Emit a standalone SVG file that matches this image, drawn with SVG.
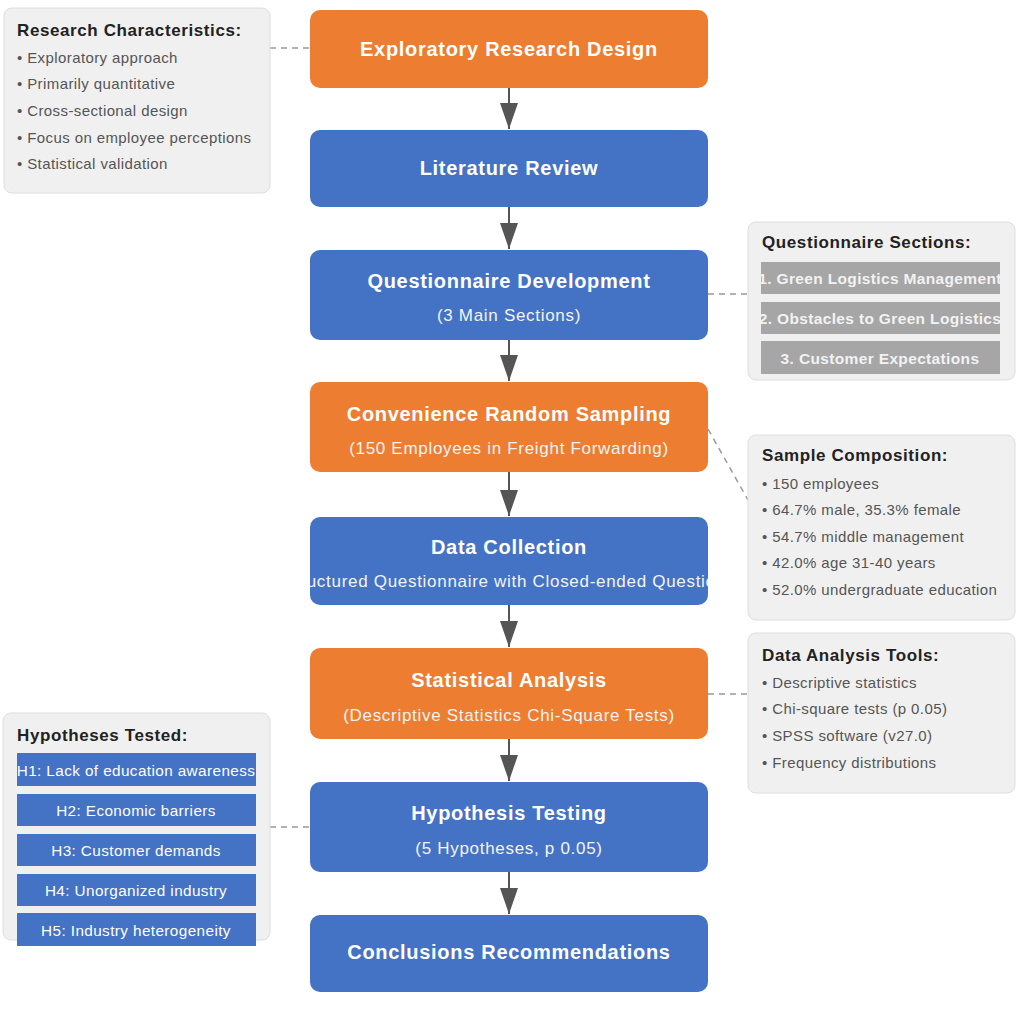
<svg xmlns="http://www.w3.org/2000/svg" width="1022" height="1017" viewBox="0 0 1022 1017">
<style>
.node rect{stroke:none}
.orange{fill:#ed7d31}
.blue{fill:#4472c4}
.nt{font-family:"Liberation Sans",Arial,sans-serif;font-weight:bold;font-size:20px;letter-spacing:0.7px;fill:#fff;text-anchor:middle;dominant-baseline:central}
.ns{font-family:"Liberation Sans",Arial,sans-serif;font-size:17px;letter-spacing:0.7px;fill:#f4f4f4;text-anchor:middle;dominant-baseline:central}
.box{fill:#f0f0f0;stroke:#dedede;stroke-width:1}
.bt{font-family:"Liberation Sans",Arial,sans-serif;font-weight:bold;font-size:17px;letter-spacing:0.6px;fill:#222;dominant-baseline:central}
.bi{font-family:"Liberation Sans",Arial,sans-serif;font-size:15px;letter-spacing:0.4px;fill:#555;dominant-baseline:central}
.gbar{fill:#a6a6a6}
.gt{font-family:"Liberation Sans",Arial,sans-serif;font-weight:bold;font-size:15.5px;letter-spacing:0.35px;fill:#f2f2f2;text-anchor:middle;dominant-baseline:central}
.hbar{fill:#4472c4}
.ht{font-family:"Liberation Sans",Arial,sans-serif;font-size:15.3px;letter-spacing:0.4px;fill:#fff;text-anchor:middle;dominant-baseline:central}
.flow{stroke:#555;stroke-width:2;fill:none}
.dash{stroke:#999;stroke-width:1.5;stroke-dasharray:6,5;fill:none}
</style>
<defs>
<marker id="ah" markerUnits="userSpaceOnUse" markerWidth="26" markerHeight="18" refX="26" refY="9" orient="auto">
<path d="M0,0 L26,9 L0,18 z" fill="#555"/>
</marker>
<clipPath id="clipDC"><rect x="310" y="517" width="398" height="88" rx="10"/></clipPath>
<clipPath id="clipQ1"><rect x="761" y="262" width="239" height="32"/></clipPath>
<clipPath id="clipQ2"><rect x="761" y="302" width="239" height="32"/></clipPath>
<clipPath id="clipQ3"><rect x="761" y="341" width="239" height="33"/></clipPath>
<clipPath id="clipH1"><rect x="17" y="753" width="239" height="33"/></clipPath>
</defs>
<rect width="1022" height="1017" fill="#fff"/>

<g id="connectors">
<line class="flow" x1="509" y1="88" x2="509" y2="129" marker-end="url(#ah)"/>
<line class="flow" x1="509" y1="207" x2="509" y2="249" marker-end="url(#ah)"/>
<line class="flow" x1="509" y1="340" x2="509" y2="381" marker-end="url(#ah)"/>
<line class="flow" x1="509" y1="472" x2="509" y2="516" marker-end="url(#ah)"/>
<line class="flow" x1="509" y1="605" x2="509" y2="647" marker-end="url(#ah)"/>
<line class="flow" x1="509" y1="739" x2="509" y2="781" marker-end="url(#ah)"/>
<line class="flow" x1="509" y1="872" x2="509" y2="914" marker-end="url(#ah)"/>
<line class="dash" x1="270" y1="48" x2="310" y2="48"/>
<line class="dash" x1="708" y1="294" x2="761" y2="294"/>
<line class="dash" x1="708" y1="429" x2="748" y2="500"/>
<line class="dash" x1="708" y1="694" x2="748" y2="694"/>
<line class="dash" x1="270" y1="827" x2="310" y2="827"/>
</g>

<g id="node-exploratory" class="node">
<rect class="orange" x="310" y="10" width="398" height="78" rx="10"/>
<text class="nt" x="509" y="49">Exploratory Research Design</text>
</g>
<g id="node-literature" class="node">
<rect class="blue" x="310" y="130" width="398" height="77" rx="10"/>
<text class="nt" x="509" y="168">Literature Review</text>
</g>
<g id="node-questionnaire" class="node">
<rect class="blue" x="310" y="250" width="398" height="90" rx="10"/>
<text class="nt" x="509" y="281">Questionnaire Development</text>
<text class="ns" x="509" y="315">(3 Main Sections)</text>
</g>
<g id="node-sampling" class="node">
<rect class="orange" x="310" y="382" width="398" height="90" rx="10"/>
<text class="nt" x="509" y="414">Convenience Random Sampling</text>
<text class="ns" x="509" y="448">(150 Employees in Freight Forwarding)</text>
</g>
<g id="node-datacollection" class="node">
<rect class="blue" x="310" y="517" width="398" height="88" rx="10"/>
<text class="nt" x="509" y="547">Data Collection</text>
<text class="ns" x="509" y="581" clip-path="url(#clipDC)">(Structured Questionnaire with Closed-ended Questions)</text>
</g>
<g id="node-statistical" class="node">
<rect class="orange" x="310" y="648" width="398" height="91" rx="10"/>
<text class="nt" x="509" y="680">Statistical Analysis</text>
<text class="ns" x="509" y="715">(Descriptive Statistics Chi-Square Tests)</text>
</g>
<g id="node-hypothesis" class="node">
<rect class="blue" x="310" y="782" width="398" height="90" rx="10"/>
<text class="nt" x="509" y="813">Hypothesis Testing</text>
<text class="ns" x="509" y="848">(5 Hypotheses, p 0.05)</text>
</g>
<g id="node-conclusions" class="node">
<rect class="blue" x="310" y="915" width="398" height="77" rx="10"/>
<text class="nt" x="509" y="952">Conclusions Recommendations</text>
</g>

<g id="box-research">
<rect class="box" x="4" y="8" width="266" height="185" rx="8"/>
<text class="bt" x="17" y="30">Research Characteristics:</text>
<text class="bi" x="17" y="57">• Exploratory approach</text>
<text class="bi" x="17" y="83">• Primarily quantitative</text>
<text class="bi" x="17" y="110">• Cross-sectional design</text>
<text class="bi" x="17" y="137">• Focus on employee perceptions</text>
<text class="bi" x="17" y="163">• Statistical validation</text>
</g>

<g id="box-sections">
<rect class="box" x="748" y="222" width="267" height="158" rx="8"/>
<text class="bt" x="762" y="242">Questionnaire Sections:</text>
<rect class="gbar" x="761" y="262" width="239" height="32"/>
<text class="gt" x="880" y="278" clip-path="url(#clipQ1)">1. Green Logistics Management</text>
<rect class="gbar" x="761" y="302" width="239" height="32"/>
<text class="gt" x="880" y="318" clip-path="url(#clipQ2)">2. Obstacles to Green Logistics</text>
<rect class="gbar" x="761" y="341" width="239" height="33"/>
<text class="gt" x="880" y="358" clip-path="url(#clipQ3)">3. Customer Expectations</text>
</g>

<g id="box-sample">
<rect class="box" x="748" y="435" width="267" height="185" rx="8"/>
<text class="bt" x="762" y="455">Sample Composition:</text>
<text class="bi" x="762" y="483">• 150 employees</text>
<text class="bi" x="762" y="509">• 64.7% male, 35.3% female</text>
<text class="bi" x="762" y="536">• 54.7% middle management</text>
<text class="bi" x="762" y="562">• 42.0% age 31-40 years</text>
<text class="bi" x="762" y="589">• 52.0% undergraduate education</text>
</g>

<g id="box-tools">
<rect class="box" x="748" y="633" width="267" height="160" rx="8"/>
<text class="bt" x="762" y="655">Data Analysis Tools:</text>
<text class="bi" x="762" y="682">• Descriptive statistics</text>
<text class="bi" x="762" y="708">• Chi-square tests (p 0.05)</text>
<text class="bi" x="762" y="735">• SPSS software (v27.0)</text>
<text class="bi" x="762" y="762">• Frequency distributions</text>
</g>

<g id="box-hypotheses">
<rect class="box" x="3" y="713" width="267" height="227" rx="8"/>
<text class="bt" x="17" y="735">Hypotheses Tested:</text>
<rect class="hbar" x="17" y="753" width="239" height="33"/>
<text class="ht" x="136" y="770" clip-path="url(#clipH1)">H1: Lack of education awareness</text>
<rect class="hbar" x="17" y="794" width="239" height="32"/>
<text class="ht" x="136" y="810">H2: Economic barriers</text>
<rect class="hbar" x="17" y="834" width="239" height="32"/>
<text class="ht" x="136" y="850">H3: Customer demands</text>
<rect class="hbar" x="17" y="874" width="239" height="32"/>
<text class="ht" x="136" y="890">H4: Unorganized industry</text>
<rect class="hbar" x="17" y="913" width="239" height="33"/>
<text class="ht" x="136" y="930">H5: Industry heterogeneity</text>
</g>
</svg>
